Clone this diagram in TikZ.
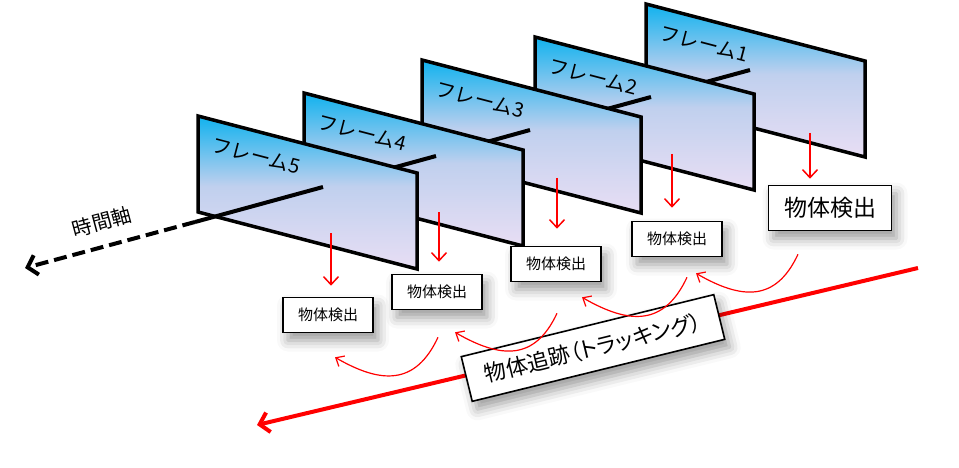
\documentclass[tikz,border=0pt]{standalone}
\usepackage{fontspec}
\setmainfont{Noto Sans CJK JP}
\newfontfamily\paltfont[RawFeature=+palt]{Noto Sans CJK JP}
\usetikzlibrary{calc}
\usetikzlibrary{arrows.meta}
\usetikzlibrary{shadows.blur}

\definecolor{framecyan}{RGB}{16,178,238}
\definecolor{framemid}{RGB}{192,208,238}
\definecolor{framelav}{RGB}{232,222,244}
\pgfdeclareverticalshading{framefill}{100bp}{color(0bp)=(framelav); color(25bp)=(framelav); color(52bp)=(framemid); color(75bp)=(framecyan); color(100bp)=(framecyan)}

\begin{document}
\begin{tikzpicture}[x=1pt,y=1pt,
  frame/.style={line width=3.5pt, shading=framefill},
  framelabel/.style={rotate=-14.6, font=\fontsize{20}{20}\selectfont},
  axisline/.style={line width=4pt},
  detbox/.style={draw, line width=1.6pt, fill=white, inner sep=0pt, minimum width=90pt, minimum height=35pt, font=\fontsize{15}{15}\selectfont, blur shadow={shadow xshift=5pt, shadow yshift=-8pt, shadow blur radius=11pt, shadow opacity=40}},
  downarrow/.style={red, line width=1.5pt, -{Straight Barb[length=8pt,width=15pt]}},
  trackarrow/.style={red, line width=1.2pt, -{Straight Barb[length=7pt,width=12pt]}, out=245, in=-30, looseness=1.3}
]
\useasboundingbox (0,0) rectangle (959,-468);

% frames, back to front
\foreach \n/\x/\y/\px/\py/\qx/\qy in {1/646/4/750/70/651/97, 2/535/37/651/97/530/130, 3/422/60/530/130/436/156, 4/304/93/436/156/323/187, 5/198/116/323/187/195/222} {
  \shadedraw[frame] (\x,-\y) coordinate (tl\n) -- ++(219,-57) -- ++(0,-96) -- ++(-219,57) -- cycle;
  \node[framelabel] (lab\n) at ($(tl\n)+(58,-40)$) {フレーム\n};
  \draw[axisline] (\px,-\py) coordinate (p\n) -- (\qx,-\qy) coordinate (q\n);
}

% time axis
\coordinate (axistip) at (25,-268);
\draw[axisline, dash pattern=on 13pt off 6pt, -{Straight Barb[length=9pt,width=20pt]}] (q5) -- (axistip);
\node[rotate=15, font=\fontsize{20}{20}\selectfont] (axislabel) at (102,-222) {時間軸};

% detection
\node[detbox, minimum width=123pt, minimum height=45pt, font=\fontsize{23}{23}\selectfont] (det1) at (830,-208) {物体検出};
\node[detbox] (det2) at (677,-239) {物体検出};
\node[detbox] (det3) at (556,-264) {物体検出};
\node[detbox] (det4) at (437,-292) {物体検出};
\node[detbox] (det5) at (328,-315) {物体検出};

\foreach \n/\ax/\ay/\gap in {1/810/133/6, 2/672/154/13, 3/557/178/17, 4/439/212/12, 5/331/233/11}
  \draw[downarrow, shorten >=\gap pt] (\ax,-\ay) coordinate (s\n) -- (s\n |- det\n.north);

% tracking
\coordinate (trackR) at (918,-268);
\coordinate (trackL) at (257,-425);
\draw[red, line width=4pt, -{Straight Barb[length=9pt,width=20pt]}] (trackR) -- (trackL);
\node[detbox, rotate=13.8, minimum width=260pt, minimum height=46pt, font=\paltfont\fontsize{22}{22}\selectfont] (trackbox) at (593,-348) {物体追跡（トラッキング）};

\foreach \i/\j/\sx/\sy/\ex/\ey in {1/2/-32/-23/19/-16, 2/3/10/-20/26/-15, 3/4/1/-31/18/-22, 4/5/1/-27/7/-24}
  \draw[trackarrow] ($(det\i.south)+(\sx,\sy)$) to ($(det\j.south)+(\ex,\ey)$);

\end{tikzpicture}
\end{document}
